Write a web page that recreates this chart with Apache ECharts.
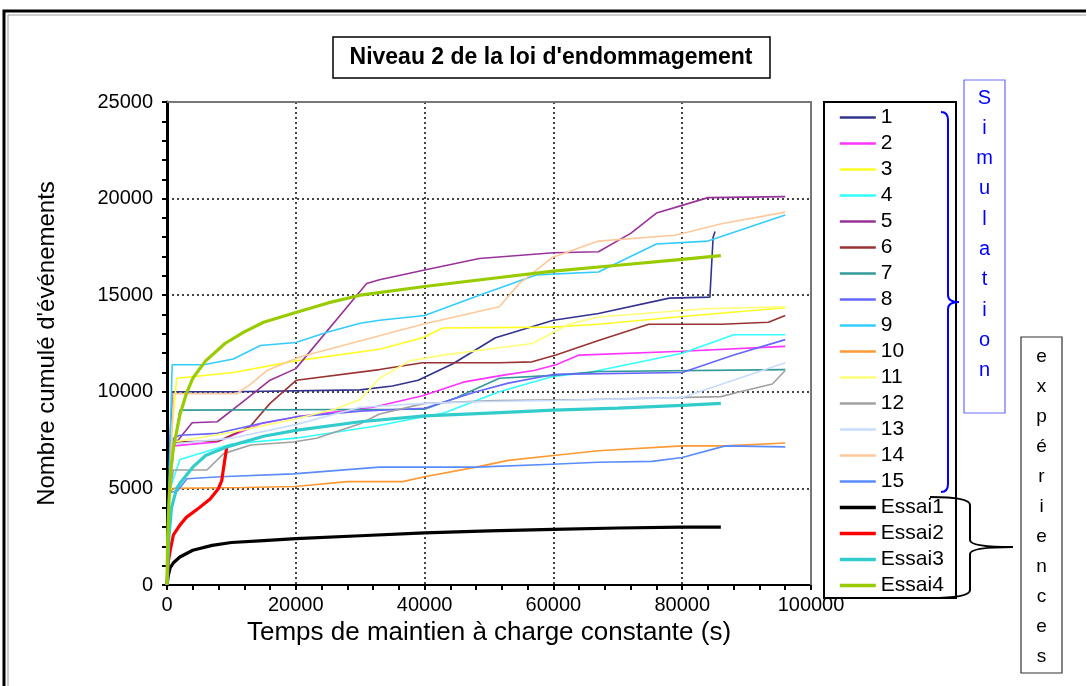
<!DOCTYPE html>
<html>
<head>
<meta charset="utf-8">
<script src="https://cdn.jsdelivr.net/npm/echarts@6/dist/echarts.min.js"></script>
<style>
  html, body { margin: 0; padding: 0; background: #fff; }
  #chart { width: 1087px; height: 686px; }
</style>
</head>
<body>
<div id="chart"></div>
<script>
// Axis ticks
const xTicks = [0, 20000, 40000, 60000, 80000, 100000];
const yTicks = [0, 5000, 10000, 15000, 20000, 25000];

// Simulation curves, [time (s), cumulated events]
const sim1 = [[300, 6000], [600, 8500], [1000, 10000], [10000, 10000], [30000, 10100], [35000, 10300], [39000, 10600], [44400, 11450], [51000, 12800], [60000, 13700], [67000, 14050], [78000, 14850], [84300, 14900], [84800, 18000], [85100, 18300]];
const sim2 = [[500, 5500], [1000, 7200], [7800, 7400], [14500, 8350], [20000, 8700], [32000, 9200], [39700, 9800], [46000, 10500], [52000, 10850], [57000, 11100], [60400, 11400], [64000, 11900], [80000, 12100], [96000, 12350]];
const sim3 = [[500, 7000], [1500, 10700], [10300, 11000], [20000, 11600], [33000, 12200], [39700, 12800], [42800, 13300], [59800, 13350], [67000, 13500], [80000, 13900], [96000, 14350]];
const sim4 = [[500, 5000], [2000, 6500], [10000, 7300], [20000, 7600], [32000, 8200], [43000, 8900], [51600, 10000], [60000, 10800], [65500, 11000], [80000, 12000], [88000, 12950], [96000, 12950]];
const sim5 = [[500, 6000], [1000, 7200], [3900, 8400], [7800, 8450], [12400, 9650], [16000, 10600], [20000, 11200], [31000, 15600], [33000, 15800], [40000, 16300], [48500, 16900], [60000, 17200], [67000, 17250], [72000, 18200], [76000, 19250], [80000, 19650], [84000, 20050], [96000, 20100]];
const sim6 = [[500, 5000], [1000, 7400], [8000, 7450], [12900, 8200], [16000, 9400], [20100, 10600], [33000, 11150], [39700, 11500], [51600, 11500], [56700, 11550], [60400, 11900], [67000, 12650], [74800, 13500], [86100, 13500], [93400, 13600], [96000, 13950]];
const sim7 = [[500, 5000], [1000, 7000], [2000, 9050], [40000, 9100], [45000, 9700], [51600, 10700], [60000, 10850], [67000, 11050], [96000, 11150]];
const sim8 = [[500, 5000], [1000, 7600], [2000, 7750], [7800, 7850], [15000, 8400], [20000, 8700], [30000, 9000], [40000, 9150], [48000, 10000], [53000, 10450], [60000, 10900], [80000, 11000], [88000, 11900], [96000, 12700]];
const sim9 = [[300, 5000], [800, 11400], [5700, 11400], [10300, 11700], [14500, 12400], [20000, 12550], [25000, 13100], [30000, 13550], [33000, 13700], [40000, 13950], [48500, 15000], [57300, 16050], [67000, 16200], [76000, 17650], [84000, 17800], [96000, 19150]];
const sim10 = [[500, 4800], [1000, 5000], [12000, 5050], [20000, 5100], [28000, 5350], [36600, 5350], [40000, 5600], [48000, 6100], [53000, 6450], [60000, 6700], [67000, 6950], [80000, 7200], [86700, 7200], [96000, 7350]];
const sim11 = [[500, 5000], [1000, 7400], [10000, 7900], [20000, 8600], [26000, 9100], [30000, 9600], [33000, 10700], [37700, 11600], [42800, 11900], [56700, 12500], [62400, 13500], [67000, 13870], [83600, 14300], [96000, 14400]];
const sim12 = [[500, 5000], [1000, 5950], [6200, 5950], [8800, 6800], [13000, 7250], [19600, 7400], [23200, 7600], [30000, 8350], [33000, 8850], [40000, 9400], [51000, 9550], [65500, 9600], [86000, 9750], [89000, 10000], [94000, 10400], [96000, 11100]];
const sim13 = [[500, 5000], [1000, 7300], [10000, 7600], [20000, 8300], [30000, 9200], [40000, 9400], [50000, 9500], [60000, 9550], [80000, 9700], [96000, 11500]];
const sim14 = [[500, 5500], [1000, 9900], [10800, 9900], [13000, 10400], [15500, 11100], [20600, 11800], [33000, 12900], [39700, 13500], [51600, 14400], [54700, 15600], [59800, 16950], [67000, 17800], [78900, 18100], [86100, 18700], [96000, 19300]];
const sim15 = [[500, 4800], [1600, 4850], [3100, 5500], [8300, 5600], [19600, 5750], [33000, 6100], [48000, 6100], [59800, 6250], [67000, 6350], [75300, 6400], [80000, 6600], [86700, 7200], [96000, 7150]];

// Experimental curves
const essai1 = [[0, 0], [200, 500], [500, 900], [1000, 1150], [2000, 1450], [4000, 1800], [7000, 2050], [10000, 2200], [15000, 2300], [20000, 2400], [30000, 2550], [40000, 2700], [50000, 2800], [60000, 2880], [70000, 2950], [80000, 3000], [86000, 3000]];
const essai2 = [[0, 0], [200, 1200], [500, 1800], [1000, 2600], [2000, 3100], [3000, 3500], [5000, 4000], [6700, 4450], [8000, 5000], [8500, 5400], [8800, 6100], [9300, 7200]];
const essai3 = [[0, 0], [300, 2500], [700, 4000], [1500, 5000], [2100, 5300], [4000, 6100], [6000, 6700], [9300, 7150], [15000, 7700], [20000, 8000], [30000, 8450], [40000, 8750], [50000, 8900], [60000, 9050], [70000, 9150], [80000, 9300], [86000, 9400]];
const essai4 = [[0, 0], [100, 2500], [300, 4300], [600, 6000], [1000, 7100], [2000, 8800], [3000, 9900], [4000, 10700], [6000, 11600], [9000, 12500], [12000, 13100], [15000, 13600], [20000, 14100], [25000, 14600], [30000, 15000], [40000, 15450], [50000, 15850], [60000, 16250], [70000, 16550], [80000, 16850], [86000, 17050]];

const simNames = ['1', '2', '3', '4', '5', '6', '7', '8', '9', '10', '11', '12', '13', '14', '15'];
const simData = [sim1, sim2, sim3, sim4, sim5, sim6, sim7, sim8, sim9, sim10, sim11, sim12, sim13, sim14, sim15];
const simColors = ['#33338f', '#ff33ff', '#ffff22', '#33ffff', '#993399', '#993333', '#339999', '#6666ff', '#33ccff', '#ff9933', '#ffff77', '#a0a0a0', '#c8dcff', '#ffc89a', '#5a8cff'];
const essaiNames = ['Essai1', 'Essai2', 'Essai3', 'Essai4'];
const essaiData = [essai1, essai2, essai3, essai4];
const essaiColors = ['#000000', '#ff0000', '#33cccc', '#99cc00'];

const FONT = '"Liberation Sans", Arial, sans-serif';
const chart = echarts.init(document.getElementById('chart'), null, { renderer: 'canvas' });

const series = [];
simNames.forEach((n, i) => series.push({
  name: n, type: 'line', data: simData[i], symbol: 'none', smooth: false,
  lineStyle: { color: simColors[i], width: 1.6 }, itemStyle: { color: simColors[i] }, z: 2,
}));
essaiNames.forEach((n, i) => series.push({
  name: n, type: 'line', data: essaiData[i], symbol: 'none', smooth: false,
  lineStyle: { color: essaiColors[i], width: 3.2 }, itemStyle: { color: essaiColors[i] }, z: 3,
}));

// legend swatches are drawn a bit heavier than the plotted lines
const legendData = simNames.map((n) => ({ name: n, lineStyle: { width: 2.6 } }))
  .concat(essaiNames.map((n) => ({ name: n, lineStyle: { width: 3.6 } })));

const dotted = { color: '#444', type: [2, 3], width: 2 };

// a curly brace opening to the left, drawn from straight lines and quadratic curves
function brace(xl, xs, xt, y0, ym, y1, color) {
  const st = { stroke: color, lineWidth: 2, fill: null };
  const r = 8;
  return [
    { type: 'bezierCurve', shape: { x1: xl, y1: y0, cpx1: xs, cpy1: y0, x2: xs, y2: y0 + r }, style: st, silent: true },
    { type: 'line', shape: { x1: xs, y1: y0 + r, x2: xs, y2: ym - 7 }, style: st, silent: true },
    { type: 'bezierCurve', shape: { x1: xs, y1: ym - 7, cpx1: xs, cpy1: ym, x2: xt, y2: ym }, style: st, silent: true },
    { type: 'bezierCurve', shape: { x1: xt, y1: ym, cpx1: xs, cpy1: ym, x2: xs, y2: ym + 7 }, style: st, silent: true },
    { type: 'line', shape: { x1: xs, y1: ym + 7, x2: xs, y2: y1 - r }, style: st, silent: true },
    { type: 'bezierCurve', shape: { x1: xs, y1: y1 - r, cpx1: xs, cpy1: y1, x2: xl, y2: y1 }, style: st, silent: true },
  ];
}

const simLetters = 'Simulation'.split('');
const expLetters = 'expériences'.split('');

const graphic = [
  // outer frame
  { type: 'polyline', shape: { points: [[4, 686], [4, 11], [1086, 11]] }, style: { stroke: '#000', lineWidth: 3, fill: null }, silent: true },
  { type: 'polyline', shape: { points: [[8, 686], [8, 15], [1086, 15]] }, style: { stroke: '#999', lineWidth: 1, fill: null }, silent: true },
  // title box
  { type: 'rect', shape: { x: 333, y: 37, width: 437, height: 41 }, style: { fill: '#fff', stroke: '#000', lineWidth: 1.5 } },
  { type: 'text', x: 551, y: 58, style: { text: "Niveau 2 de la loi d'endommagement", font: 'bold 23px ' + FONT, fill: '#000', align: 'center', verticalAlign: 'middle' } },
  // legend box
  { type: 'rect', shape: { x: 824, y: 102, width: 132, height: 496 }, style: { fill: null, stroke: '#000', lineWidth: 2 }, z: 0 },
  // plot top / right border
  { type: 'polyline', shape: { points: [[167, 102], [811, 102], [811, 585]] }, style: { stroke: '#777', lineWidth: 2, fill: null }, z: 1 },
  { type: 'rect', shape: { x: 964, y: 80, width: 41, height: 333 }, style: { fill: '#fff', stroke: '#6a6aff', lineWidth: 1.2 } },
  { type: 'rect', shape: { x: 1021, y: 337, width: 41, height: 336 }, style: { fill: '#fff', stroke: '#333', lineWidth: 1.2 } },
].concat(brace(941, 948, 959, 112, 302, 492, '#0000ff'), brace(930, 970, 1013, 497, 547, 598, '#000'));

simLetters.forEach((c, i) => graphic.push({
  type: 'text', x: 984.5, y: 98 + i * 30.3,
  style: { text: c, font: '20px ' + FONT, fill: '#0000ff', align: 'center', verticalAlign: 'middle' },
}));
expLetters.forEach((c, i) => graphic.push({
  type: 'text', x: 1041.5, y: 357 + i * 30,
  style: { text: c, font: '19px ' + FONT, fill: '#000', align: 'center', verticalAlign: 'middle' },
}));

const plain = (v) => String(v);

chart.setOption({
  backgroundColor: '#fff',
  animation: false,
  textStyle: { fontFamily: FONT },
  grid: { left: 167, top: 102, width: 644, height: 483, containLabel: false },
  legend: {
    orient: 'vertical', left: 838, top: 107, padding: 0,
    itemWidth: 36, itemHeight: 14, itemGap: 5,
    data: legendData,
    itemStyle: { color: 'rgba(0,0,0,0)', borderWidth: 0, opacity: 0 },
    textStyle: { fontSize: 21, lineHeight: 21, color: '#000', fontFamily: FONT },
    selectedMode: false,
  },
  xAxis: {
    type: 'value', min: xTicks[0], max: xTicks[xTicks.length - 1], interval: xTicks[1] - xTicks[0],
    name: 'Temps de maintien à charge constante (s)', nameLocation: 'middle', nameGap: 33,
    nameTextStyle: { fontSize: 26, color: '#000', fontFamily: FONT },
    axisLine: { onZero: false, lineStyle: { color: '#000', width: 2 } },
    axisTick: { show: true, length: 5, lineStyle: { color: '#000', width: 2 } },
    minorTick: { show: true, splitNumber: 5, length: 5, lineStyle: { color: '#000', width: 2 } },
    axisLabel: { fontSize: 20, color: '#000', margin: 10, showMaxLabel: true, showMinLabel: true, formatter: plain },
    splitLine: { show: true, lineStyle: dotted },
  },
  yAxis: {
    type: 'value', min: yTicks[0], max: yTicks[yTicks.length - 1], interval: yTicks[1] - yTicks[0],
    name: "Nombre cumulé d'événements", nameLocation: 'middle', nameGap: 108, nameRotate: 90,
    nameTextStyle: { fontSize: 24, color: '#000', fontFamily: FONT },
    axisLine: { show: true, onZero: false, lineStyle: { color: '#000', width: 3 } },
    axisTick: { show: true, length: 5, lineStyle: { color: '#000', width: 2 } },
    minorTick: { show: true, splitNumber: 5, length: 5, lineStyle: { color: '#000', width: 2 } },
    axisLabel: { fontSize: 20, color: '#000', margin: 14, formatter: plain },
    splitLine: { show: true, lineStyle: dotted },
  },
  series,
  graphic,
});
</script>
</body>
</html>
